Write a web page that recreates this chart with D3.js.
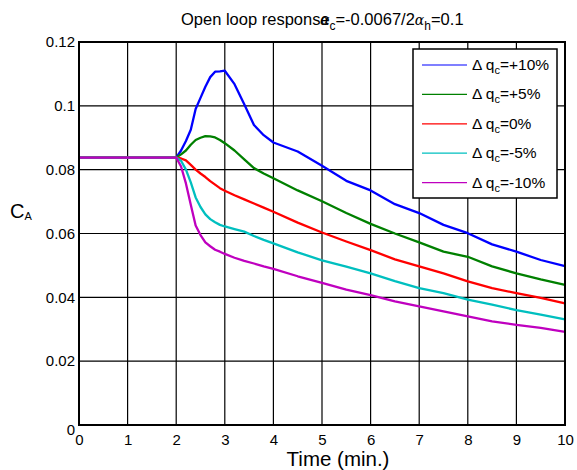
<!DOCTYPE html>
<html>
<head>
<meta charset="utf-8">
<script src="https://cdn.jsdelivr.net/npm/d3@7"></script>
<style>
  html, body { margin: 0; padding: 0; background: #fff; }
  svg text { font-family: "Liberation Sans", Arial, Helvetica, sans-serif; fill: #000; }
</style>
</head>
<body>
<svg id="chart" width="577" height="470"></svg>
<script>
// Sample times (min.)
const time = [0, 2.0, 2.1, 2.2, 2.3, 2.4, 2.5, 2.6, 2.7, 2.8, 2.9, 3.0, 3.2, 3.4, 3.6, 3.8,
              4.0, 4.5, 5.0, 5.5, 6.0, 6.5, 7.0, 7.5, 8.0, 8.5, 9.0, 9.5, 10.0];

// Concentration C_A for each step change in coolant flow q_c
const caPlus10 = [0.0838, 0.0838, 0.0860, 0.0890, 0.0925, 0.0990, 0.1025, 0.1060, 0.1090, 0.1107, 0.1108, 0.1110,
                  0.1068, 0.1005, 0.0940, 0.0908, 0.0885, 0.0857, 0.0812, 0.0765, 0.0735, 0.0692, 0.0664,
                  0.0627, 0.0601, 0.0566, 0.0543, 0.0517, 0.0498];
const caPlus5  = [0.0838, 0.0838, 0.0848, 0.0860, 0.0878, 0.0893, 0.0900, 0.0905, 0.0904, 0.0901, 0.0893, 0.0883,
                  0.0860, 0.0832, 0.0805, 0.0788, 0.0773, 0.0735, 0.0701, 0.0664, 0.0630, 0.0600, 0.0572,
                  0.0543, 0.0527, 0.0497, 0.0475, 0.0456, 0.0439];
const caZero   = [0.0838, 0.0838, 0.0835, 0.0829, 0.0815, 0.0800, 0.0788, 0.0777, 0.0764, 0.0753, 0.0742, 0.0734,
                  0.0720, 0.0707, 0.0694, 0.0681, 0.0668, 0.0634, 0.0603, 0.0575, 0.0548, 0.0519, 0.0497,
                  0.0475, 0.0450, 0.0429, 0.0413, 0.0398, 0.0381];
const caMinus5 = [0.0838, 0.0838, 0.0828, 0.0800, 0.0760, 0.0713, 0.0683, 0.0660, 0.0645, 0.0635, 0.0627, 0.0622,
                  0.0614, 0.0606, 0.0592, 0.0580, 0.0569, 0.0541, 0.0516, 0.0496, 0.0475, 0.0451, 0.0429,
                  0.0413, 0.0393, 0.0377, 0.0360, 0.0346, 0.0331];
const caMinus10 = [0.0838, 0.0838, 0.0810, 0.0757, 0.0690, 0.0625, 0.0595, 0.0572, 0.0560, 0.0549, 0.0543, 0.0536,
                   0.0524, 0.0514, 0.0506, 0.0497, 0.0489, 0.0466, 0.0445, 0.0424, 0.0407, 0.0387, 0.0372,
                   0.0356, 0.0340, 0.0325, 0.0314, 0.0304, 0.0292];

const seriesLabels = ["=+10%", "=+5%", "=0%", "=-5%", "=-10%"];
const seriesColors = ["#0000ff", "#008000", "#ff0000", "#00bfbf", "#bf00bf"];
const seriesValues = [caPlus10, caPlus5, caZero, caMinus5, caMinus10];

const xTicks = [0, 1, 2, 3, 4, 5, 6, 7, 8, 9, 10];
const yTicks = [0, 0.02, 0.04, 0.06, 0.08, 0.1, 0.12];
const yTickLabels = ["0", "0.02", "0.04", "0.06", "0.08", "0.1", "0.12"];

const svg = d3.select("#chart");
const plot = { left: 79, right: 565, top: 42, bottom: 425 };

const x = d3.scaleLinear().domain([0, 10]).range([plot.left, plot.right]);
const y = d3.scaleLinear().domain([0, 0.12]).range([plot.bottom, plot.top]);

// Grid
const grid = svg.append("g");
grid.selectAll("line.vx").data(xTicks).join("line")
  .attr("x1", d => x(d)).attr("x2", d => x(d))
  .attr("y1", plot.top).attr("y2", plot.bottom)
  .attr("stroke", "#000").attr("stroke-width", 1.2);
grid.selectAll("line.hy").data(yTicks).join("line")
  .attr("x1", plot.left).attr("x2", plot.right)
  .attr("y1", d => y(d)).attr("y2", d => y(d))
  .attr("stroke", "#000").attr("stroke-width", 1.2);

// Axes
const xAxis = d3.axisBottom(x).tickValues(xTicks).tickSize(0).tickPadding(9).tickFormat(d3.format("d"));
const yAxis = d3.axisLeft(y).tickValues(yTicks).tickSize(0).tickPadding(4)
  .tickFormat((d, i) => yTickLabels[i]);

const gx = svg.append("g").attr("transform", `translate(0,${plot.bottom})`).call(xAxis);
const gy = svg.append("g").attr("transform", `translate(${plot.left},0)`).call(yAxis);
[gx, gy].forEach(g => {
  g.select(".domain").remove();
  g.selectAll("text").style("font-size", "15px").attr("fill", "#000");
});
gy.selectAll(".tick").filter(d => d === 0).select("text").attr("dy", "0.6em");

// Curves
const line = d3.line().x((d, i) => x(time[i])).y(d => y(d));
svg.append("g").selectAll("path").data(seriesValues).join("path")
  .attr("d", d => line(d))
  .attr("fill", "none")
  .attr("stroke", (d, i) => seriesColors[i])
  .attr("stroke-width", 2.3)
  .attr("stroke-linejoin", "round");

// Frame
svg.append("rect")
  .attr("x", plot.left).attr("y", plot.top)
  .attr("width", plot.right - plot.left).attr("height", plot.bottom - plot.top)
  .attr("fill", "none").attr("stroke", "#000").attr("stroke-width", 2);

// Legend
const legend = svg.append("g").attr("transform", "translate(413,49)");
legend.append("rect").attr("width", 144).attr("height", 149)
  .attr("fill", "#fff").attr("stroke", "#000").attr("stroke-width", 1.5);
const rows = legend.selectAll("g.row").data(seriesLabels).join("g")
  .attr("transform", (d, i) => `translate(0,${16 + i * 29.4})`);
rows.append("line").attr("x1", 9).attr("x2", 54).attr("y1", 0).attr("y2", 0)
  .attr("stroke", (d, i) => seriesColors[i]).attr("stroke-width", 1.2);
const lt = rows.append("text").attr("x", 59).attr("y", 5).style("font-size", "15.5px");
lt.append("tspan").text("Δ q");
lt.append("tspan").attr("dy", 4).style("font-size", "11px").text("c");
lt.append("tspan").attr("dy", -4).text(d => d);

// Axis titles
svg.append("text").attr("x", 338).attr("y", 466).attr("text-anchor", "middle")
  .style("font-size", "20.5px").text("Time (min.)");
const yl = svg.append("text").attr("x", 10).attr("y", 218).style("font-size", "20px");
yl.append("tspan").text("C");
yl.append("tspan").attr("dy", 2).style("font-size", "11px").text("A");

// Title
svg.append("text").attr("x", 181).attr("y", 25).style("font-size", "16.5px").text("Open loop response");
const t2 = svg.append("text").attr("x", 320).attr("y", 25).style("font-size", "16.5px");
t2.append("tspan").style("font-style", "italic").style("font-family", "DejaVu Serif").style("font-size", "14px").text("α");
t2.append("tspan").attr("dy", 5).style("font-size", "12px").text("c");
t2.append("tspan").attr("dy", -5).text("=-0.0067/2");
t2.append("tspan").style("font-style", "italic").style("font-family", "DejaVu Serif").style("font-size", "14px").text("α");
t2.append("tspan").attr("dy", 5).style("font-size", "12px").text("h");
t2.append("tspan").attr("dy", -5).text("=0.1");
</script>
</body>
</html>
